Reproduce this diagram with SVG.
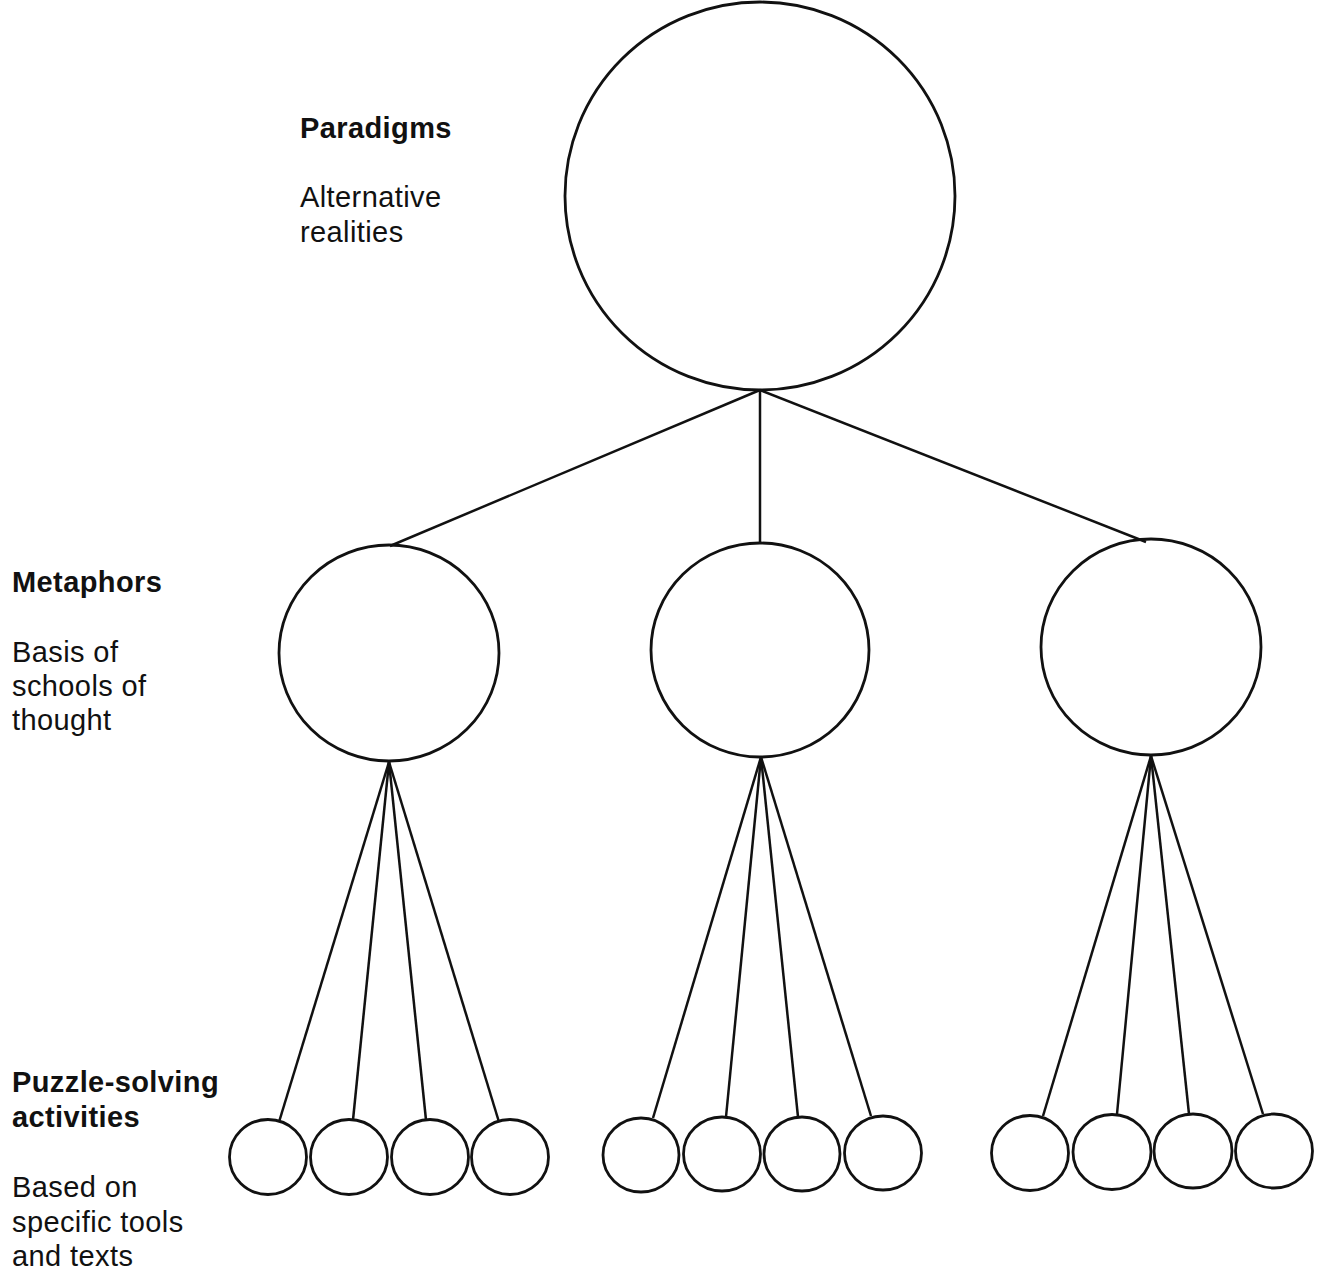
<svg xmlns="http://www.w3.org/2000/svg" width="1320" height="1272" viewBox="0 0 1320 1272">
<style>
.n{fill:none;stroke:#111;stroke-width:2.8}
.c line{stroke:#111;stroke-width:2.5}
.t{font-family:"Liberation Sans",Arial,sans-serif;font-size:29px;letter-spacing:0.4px;fill:#111}
.b{font-weight:bold}
</style>
<rect width="1320" height="1272" fill="#fff"/>
<g class="c" id="connectors">
<line x1="760" y1="390" x2="390" y2="546"/>
<line x1="760" y1="390" x2="760" y2="544"/>
<line x1="760" y1="390" x2="1146" y2="542"/>
<line x1="389" y1="762" x2="279" y2="1122"/>
<line x1="389" y1="762" x2="353" y2="1120"/>
<line x1="389" y1="762" x2="426" y2="1120"/>
<line x1="389" y1="762" x2="499" y2="1122"/>
<line x1="761" y1="757" x2="653" y2="1118"/>
<line x1="761" y1="757" x2="726" y2="1117"/>
<line x1="761" y1="757" x2="798" y2="1117"/>
<line x1="761" y1="757" x2="871" y2="1116"/>
<line x1="1151" y1="756" x2="1043" y2="1116"/>
<line x1="1151" y1="756" x2="1117" y2="1114"/>
<line x1="1151" y1="756" x2="1189" y2="1114"/>
<line x1="1151" y1="756" x2="1263" y2="1114"/>
</g>
<g id="paradigm"><ellipse class="n" cx="760" cy="196" rx="195" ry="194"/></g>
<g id="metaphor1"><ellipse class="n" cx="389" cy="653" rx="110" ry="108"/></g>
<g id="metaphor2"><ellipse class="n" cx="760" cy="650" rx="109" ry="107"/></g>
<g id="metaphor3"><ellipse class="n" cx="1151" cy="647" rx="110" ry="108"/></g>
<g id="p1"><ellipse class="n" cx="268" cy="1157" rx="38.5" ry="37.5"/></g>
<g id="p2"><ellipse class="n" cx="349" cy="1157" rx="38.5" ry="37.5"/></g>
<g id="p3"><ellipse class="n" cx="430" cy="1157" rx="38.5" ry="37.5"/></g>
<g id="p4"><ellipse class="n" cx="510" cy="1157" rx="38.5" ry="37.5"/></g>
<g id="p5"><ellipse class="n" cx="641" cy="1155" rx="38" ry="37"/></g>
<g id="p6"><ellipse class="n" cx="722" cy="1154" rx="38.5" ry="37"/></g>
<g id="p7"><ellipse class="n" cx="802" cy="1154" rx="38" ry="37"/></g>
<g id="p8"><ellipse class="n" cx="883" cy="1153" rx="38.5" ry="37"/></g>
<g id="p9"><ellipse class="n" cx="1030" cy="1153" rx="38.5" ry="37.5"/></g>
<g id="p10"><ellipse class="n" cx="1112" cy="1152" rx="39" ry="37.5"/></g>
<g id="p11"><ellipse class="n" cx="1193" cy="1151" rx="39" ry="37"/></g>
<g id="p12"><ellipse class="n" cx="1274" cy="1151" rx="38.5" ry="37"/></g>
<g id="labels">
<text class="t b" x="300" y="138">Paradigms</text>
<text class="t" x="300" y="207">Alternative</text>
<text class="t" x="300" y="242">realities</text>
<text class="t b" x="12" y="592">Metaphors</text>
<text class="t" x="12" y="662">Basis of</text>
<text class="t" x="12" y="696">schools of</text>
<text class="t" x="12" y="730">thought</text>
<text class="t b" x="12" y="1092">Puzzle-solving</text>
<text class="t b" x="12" y="1127">activities</text>
<text class="t" x="12" y="1197">Based on</text>
<text class="t" x="12" y="1232">specific tools</text>
<text class="t" x="12" y="1266">and texts</text>
</g>
</svg>
